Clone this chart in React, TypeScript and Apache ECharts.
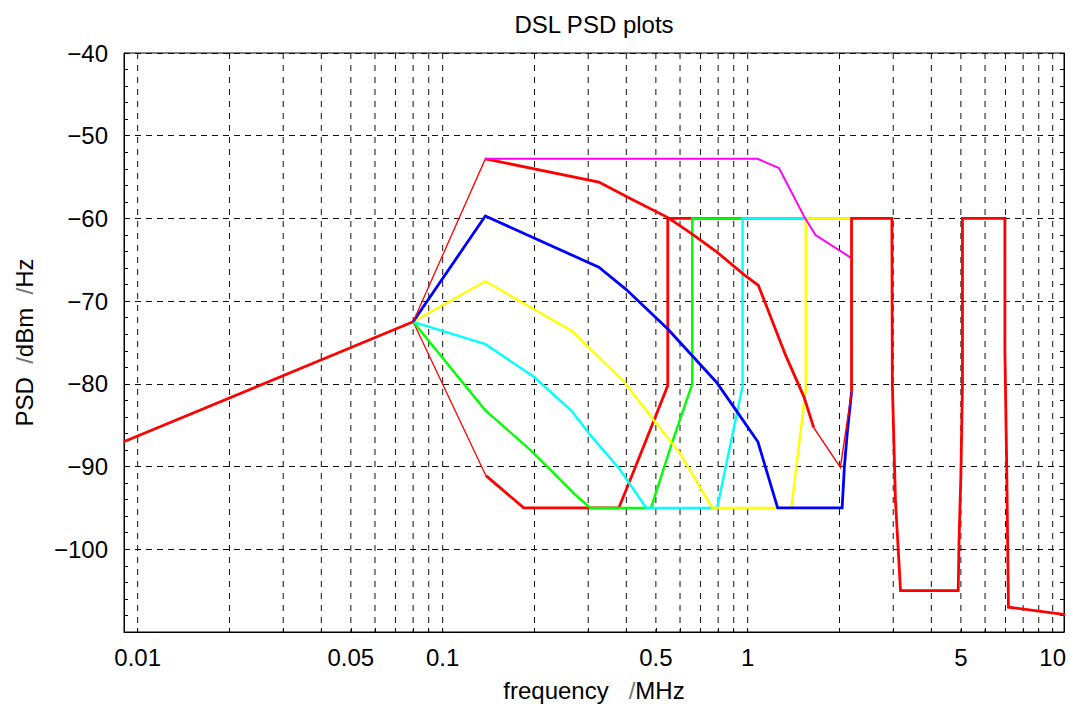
import React, { useEffect, useRef } from "react";
import * as echarts from "echarts";

type Pt = [number, number];

// Frequency axis (MHz, logarithmic) and PSD axis (dBm/Hz)
const F_MIN = 0.00902;
const F_MAX = 10.89;
const PSD_MIN = -110;
const PSD_MAX = -40;
const PSD_STEP = 10;

const FREQ_LABELS = [0.01, 0.05, 0.1, 0.5, 1, 5, 10];
const FREQ_GRID = [
  0.01, 0.02, 0.03, 0.04, 0.05, 0.06, 0.07, 0.08, 0.09,
  0.1, 0.2, 0.3, 0.4, 0.5, 0.6, 0.7, 0.8, 0.9,
  1, 2, 3, 4, 5, 6, 7, 8, 9,
  10,
];

// Red mask: low-frequency ramp up to 80 kHz
const redRamp: Pt[] = [[0.009, -87.0], [0.08, -72.5]];
// Red mask: thin rising edge to the upper plateau
const redRiseThin: Pt[] = [[0.08, -72.5], [0.138, -52.8]];
// Red mask: upper roll-off
const redUpper: Pt[] = [
  [0.138, -52.8], [0.325, -55.6], [0.412, -57.6], [0.548, -59.9],
  [0.658, -61.9], [0.789, -64.0], [0.972, -66.8], [1.084, -68.1],
  [1.33, -76.5], [1.53, -81.6], [1.646, -85.3],
];
const redUpperTail: Pt[] = [[1.646, -85.3], [2.013, -90.1], [2.19, -81]];
// Red mask: thin falling edge into the floor
const redFallThin: Pt[] = [[0.08, -72.5], [0.1386, -91.1]];
// Red mask: floor and step up to -60
const redLower: Pt[] = [
  [0.1386, -91.1], [0.1845, -95], [0.378, -95], [0.413, -91.5],
  [0.48, -85.5], [0.547, -80.2], [0.547, -60], [2.19, -60],
];
// Red mask: bands above 2.2 MHz
const redBands: Pt[] = [
  [2.19, -81], [2.19, -60], [2.97, -60], [2.98, -80], [3.05, -94],
  [3.17, -105], [4.9, -105], [4.93, -99], [5.0, -91], [5.06, -80],
  [5.06, -60], [6.97, -60], [6.97, -76], [7.06, -89], [7.16, -107],
  [11, -107.9],
];

const green: Pt[] = [
  [0.08, -72.5], [0.138, -83.2], [0.194, -88.0], [0.227, -90.5],
  [0.27, -93.3], [0.305, -95], [0.482, -95], [0.563, -87.3],
  [0.658, -80], [0.658, -60], [2.19, -60],
];
const cyan: Pt[] = [
  [0.08, -72.5], [0.138, -75.2], [0.2, -79.2], [0.265, -83.3],
  [0.305, -86.2], [0.38, -90.3], [0.465, -95], [0.794, -95],
  [0.962, -80.3], [0.962, -60], [2.19, -60],
];
const yellow: Pt[] = [
  [0.08, -72.5], [0.138, -67.6], [0.265, -73.6], [0.39, -79.6],
  [0.49, -84.3], [0.6, -88.4], [0.765, -95], [1.39, -95],
  [1.55, -80.6], [1.55, -60], [2.19, -60],
];
const blue: Pt[] = [
  [0.08, -72.5], [0.138, -59.7], [0.325, -65.9], [0.4, -68.6],
  [0.548, -73.4], [0.79, -79.8], [0.92, -83.3], [1.08, -87.0],
  [1.254, -95], [2.04, -95], [2.075, -90], [2.12, -86], [2.19, -81],
];
const magenta: Pt[] = [
  [0.138, -52.8], [1.078, -52.8], [1.266, -53.9], [1.538, -59.9],
  [1.668, -62.0], [2.19, -64.8],
];

const FONT = "'Liberation Sans', Arial, Helvetica, sans-serif";
const GRID_COLOR = "#111";

const toLog = (pts: Pt[]) => pts.map(([f, p]) => [Math.log10(f), p]);

const curve = (data: Pt[], color: string, width: number, z: number) => ({
  type: "line",
  data: toLog(data),
  symbol: "none",
  showSymbol: false,
  silent: true,
  clip: true,
  z,
  lineStyle: { color, width, cap: "butt", join: "miter" },
});

const freqText = (v: number) => {
  let best = FREQ_LABELS[0];
  for (const f of FREQ_LABELS) {
    if (Math.abs(Math.log10(f) - v) < Math.abs(Math.log10(best) - v)) best = f;
  }
  return String(best);
};

const psdText = (v: number) => {
  if (v <= PSD_MIN) return "";
  return v < 0 ? "\u2212" + Math.abs(v) : String(v);
};

export default function App() {
  const ref = useRef<HTMLDivElement>(null);

  useEffect(() => {
    document.body.style.margin = "0";
    const chart = echarts.init(ref.current!, undefined, { renderer: "svg" });

    const gridSeries = FREQ_GRID.map((f) => ({
      type: "line",
      data: [
        [Math.log10(f), PSD_MAX],
        [Math.log10(f), PSD_MIN],
      ],
      symbol: "none",
      showSymbol: false,
      silent: true,
      z: 1,
      lineStyle: { color: GRID_COLOR, width: 1, type: [6, 6] },
    }));

    const option: any = {
      animation: false,
      backgroundColor: "#fff",
      graphic: [
        {
          type: "text",
          x: 594,
          y: 24,
          style: {
            text: "DSL PSD plots",
            fill: "#000",
            font: `24px ${FONT}`,
            align: "center",
            verticalAlign: "middle",
            textAlign: "center",
            textVerticalAlign: "middle",
          },
        },
      ],
      grid: {
        left: 124,
        right: 6,
        top: 53,
        bottom: 75,
        show: true,
        borderColor: "#000",
        borderWidth: 1,
        backgroundColor: "transparent",
      },
      xAxis: {
        type: "value",
        min: Math.log10(F_MIN),
        max: Math.log10(F_MAX),
        axisLine: { show: true, onZero: false, lineStyle: { color: "#000", width: 1 } },
        axisTick: {
          show: true,
          inside: true,
          length: 4,
          customValues: FREQ_GRID.map((f) => Math.log10(f)),
          lineStyle: { color: "#000" },
        },
        axisLabel: {
          customValues: FREQ_LABELS.map((f) => Math.log10(f)),
          formatter: (v: number) => freqText(v),
          fontSize: 24,
          fontFamily: FONT,
          color: "#000",
          margin: 13,
        },
        splitLine: { show: false },
        name: "frequency\u00a0\u00a0\u00a0{s|/}MHz",
        nameLocation: "middle",
        nameGap: 46,
        nameTextStyle: {
          fontSize: 24,
          fontFamily: FONT,
          color: "#000",
          rich: { s: { fontSize: 24, fontFamily: FONT, color: "#777" } },
        },
      },
      yAxis: [
        {
          type: "value",
          position: "left",
          min: PSD_MIN,
          max: PSD_MAX,
          interval: PSD_STEP,
          axisLine: { show: true, onZero: false, lineStyle: { color: "#000", width: 1 } },
          axisTick: { show: true, inside: true, length: 4, lineStyle: { color: "#000" } },
          minorTick: { show: true, splitNumber: 5, length: 4, lineStyle: { color: "#000" } },
          axisLabel: {
            formatter: (v: number) => psdText(v),
            fontSize: 24,
            fontFamily: FONT,
            color: "#000",
            margin: 16,
          },
          splitLine: { show: true, lineStyle: { color: GRID_COLOR, width: 1, type: [6, 5] } },
          name: "PSD\u00a0\u00a0{s|/}dBm\u00a0\u00a0{s|/}Hz",
          nameLocation: "middle",
          nameGap: 88,
          nameRotate: 90,
          nameTextStyle: {
            fontSize: 24,
            fontFamily: FONT,
            color: "#000",
            rich: { s: { fontSize: 24, fontFamily: FONT, color: "#777" } },
          },
        },
        {
          type: "value",
          position: "right",
          min: PSD_MIN,
          max: PSD_MAX,
          interval: PSD_STEP,
          axisLine: { show: true, onZero: false, lineStyle: { color: "#000", width: 1 } },
          axisTick: { show: true, inside: true, length: 4, lineStyle: { color: "#000" } },
          minorTick: { show: true, splitNumber: 5, length: 4, lineStyle: { color: "#000" } },
          axisLabel: { show: false },
          splitLine: { show: false },
        },
      ],
      series: [
        ...gridSeries,
        curve(redLower, "#ff0000", 2.8, 2),
        curve(redFallThin, "#ff0000", 1.3, 2),
        curve(green, "#00ff00", 2.4, 3),
        curve(cyan, "#00ffff", 2.4, 4),
        curve(yellow, "#ffff00", 2.4, 5),
        curve(blue, "#0000ff", 2.8, 6),
        curve(redUpper, "#ff0000", 2.8, 7),
        curve(redUpperTail, "#ff0000", 1.4, 7),
        curve(redRiseThin, "#ff0000", 1.3, 7),
        curve(redRamp, "#ff0000", 2.8, 7),
        curve(magenta, "#ff00ff", 2, 8),
        curve(redBands, "#ff0000", 2.8, 9),
      ],
    };

    chart.setOption(option);
    return () => chart.dispose();
  }, []);

  return (
    <div
      ref={ref}
      style={{ position: "absolute", left: 0, top: 0, width: 1070, height: 707, background: "#fff" }}
    />
  );
}
